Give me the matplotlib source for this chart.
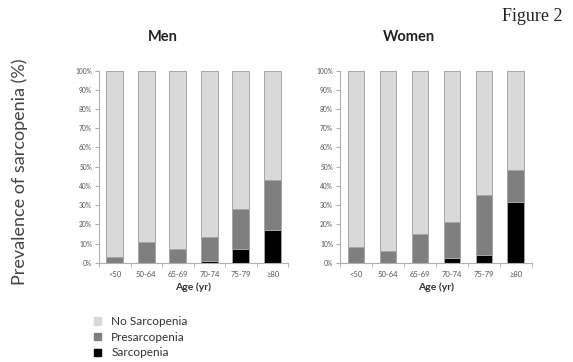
import matplotlib.pyplot as plt
import matplotlib.ticker as mticker
import numpy as np

plt.rcParams['font.family'] = ['Lato', 'DejaVu Sans']

ages = ['<50', '50-64', '65-69', '70-74', '75-79', '≥80']
# prevalence in percent
men_sarc = [0, 0, 0, 1, 7, 17]
men_presarc = [3, 11, 7, 12.5, 21, 26]
women_sarc = [0, 0, 0, 2.5, 4, 31.5]
women_presarc = [8, 6, 15, 18.5, 31.5, 17]

c_none = '#d9d9d9'
c_pre = '#7f7f7f'
c_sarc = '#000000'
edge = '#a6a6a6'


def draw_panel(ax, sarc, presarc):
    x = np.arange(len(ages))
    sarc = np.array(sarc)
    presarc = np.array(presarc)
    none = 100 - sarc - presarc
    w = 0.53
    ax.bar(x, sarc, w, color=c_sarc, edgecolor=edge, linewidth=0.7)
    ax.bar(x, presarc, w, bottom=sarc, color=c_pre, edgecolor=edge, linewidth=0.7)
    ax.bar(x, none, w, bottom=sarc + presarc, color=c_none, edgecolor=edge, linewidth=0.7)
    ax.set_xlim(-0.5, len(ages) - 0.5)
    ax.set_ylim(0, 100)
    ax.yaxis.set_major_locator(mticker.MultipleLocator(10))
    ax.yaxis.set_major_formatter(mticker.FuncFormatter(lambda v, p: f"{v:.0f}%"))
    ax.set_xticks(x)
    ax.set_xticklabels(ages)
    ax.set_xticks(np.arange(len(ages) + 1) - 0.5, minor=True)
    ax.tick_params(axis='x', which='major', length=0, labelsize=5.5,
                   colors='#555555', pad=6)
    ax.tick_params(axis='x', which='minor', length=3, color='#b0b0b0')
    ax.tick_params(axis='y', length=3, color='#b0b0b0', labelsize=4.8,
                   colors='#555555', pad=2)
    for s in ['top', 'right']:
        ax.spines[s].set_visible(False)
    for s in ['left', 'bottom']:
        ax.spines[s].set_color('#b0b0b0')
        ax.spines[s].set_linewidth(0.8)
    ax.set_xlabel('Age (yr)', fontsize=7.5, fontweight='bold', color='#333333',
                  labelpad=3)


fig = plt.figure(figsize=(5.73, 3.62), dpi=100)
ax1 = fig.add_axes([0.1728, 0.274, 0.330, 0.531])
ax2 = fig.add_axes([0.5934, 0.274, 0.335, 0.531])
draw_panel(ax1, men_sarc, men_presarc)
draw_panel(ax2, women_sarc, women_presarc)

# panel titles sit left of the axes centres in the original
fig.text(0.285, 0.898, 'Men', ha='center', va='center', fontsize=10.5,
         fontweight='bold', color='#222222')
fig.text(0.714, 0.898, 'Women', ha='center', va='center', fontsize=10.5,
         fontweight='bold', color='#222222')

fig.text(0.035, 0.525, 'Prevalence of sarcopenia (%)', rotation=90,
         ha='center', va='center', fontsize=13, color='#444444')
fig.text(0.981, 0.955, 'Figure 2', ha='right', va='center', fontsize=13,
         family='Liberation Serif', color='#222222')

handles = [plt.Rectangle((0, 0), 1, 1, color=c) for c in (c_none, c_pre, c_sarc)]
fig.legend(handles, ['No Sarcopenia', 'Presarcopenia', 'Sarcopenia'],
           loc='upper left', bbox_to_anchor=(0.155, 0.14), frameon=False,
           fontsize=8.5, handlelength=0.6, handleheight=0.6, handletextpad=0.9,
           labelspacing=0.4, borderaxespad=0, labelcolor='#333333')

fig.savefig('out.png', dpi=100)
